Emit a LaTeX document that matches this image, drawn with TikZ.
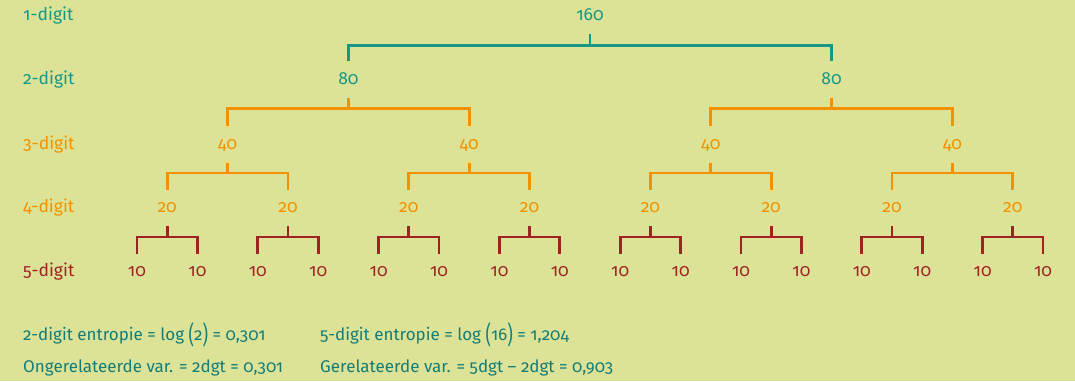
\documentclass[tikz,border=0pt]{standalone}
\usepackage{fontspec}
\setmainfont{Fira Sans}[Numbers=OldStyle]
\definecolor{bg}{RGB}{220,227,150}
\definecolor{tealc}{RGB}{22,152,135}
\definecolor{orng}{RGB}{242,146,0}
\definecolor{dred}{RGB}{158,36,36}
\definecolor{txt}{RGB}{20,125,120}
\newcommand{\bp}[1]{\raisebox{-3pt}{\scalebox{1}[1.45]{#1}}}
\begin{document}
\begin{tikzpicture}[x=1pt,y=-1pt,
  lab/.style={inner sep=0pt, text height=9pt, text depth=0pt, minimum height=36pt, font=\fontsize{17.5}{17.5}\selectfont},
  rowlab/.style={anchor=west, inner sep=0pt, font=\fontsize{17.5}{17.5}\selectfont},
  bot/.style={anchor=west, inner sep=0pt, text=txt, font=\fontsize{17}{17}\selectfont},
  brk/.style={line width=2.8pt, line join=miter}]
\fill[bg] (0,0) rectangle (1075,381);
\useasboundingbox (0,0) rectangle (1075,381);
% row labels
\node[rowlab, text=tealc] (r1) at (23,16) {1-digit};
\node[rowlab, text=tealc] (r2) at (23,79.5) {2-digit};
\node[rowlab, text=orng] (r3) at (23,144.5) {3-digit};
\node[rowlab, text=orng] (r4) at (23,208) {4-digit};
\node[rowlab, text=dred] (r5) at (23,272) {5-digit};
% nodes
\foreach \i in {0,...,15} \node[lab, text=dred] (e\i) at ({137+60.4*\i},272) {10};
\foreach \j in {0,...,7} \node[lab, text=orng] (d\j) at ({167.2+120.8*\j},208) {20};
\foreach \k in {0,...,3} \node[lab, text=orng] (c\k) at ({227.6+241.6*\k},144.5) {40};
\foreach \m in {0,1} \node[lab, text=tealc] (b\m) at ({348.4+483.2*\m},79.5) {80};
\node[lab, text=tealc] (a0) at (590,16) {160};
% brackets
\foreach \j in {0,...,7} {
  \pgfmathtruncatemacro{\l}{2*\j}\pgfmathtruncatemacro{\r}{2*\j+1}
  \draw[brk, dred] (e\l.north) -- (e\l.north |- 0,237) -- (e\r.north |- 0,237) -- (e\r.north);
  \draw[brk, dred] (d\j.south) -- (d\j.south |- 0,237);
}
\foreach \k in {0,...,3} {
  \pgfmathtruncatemacro{\l}{2*\k}\pgfmathtruncatemacro{\r}{2*\k+1}
  \draw[brk, orng] (d\l.north) -- (d\l.north |- 0,173) -- (d\r.north |- 0,173) -- (d\r.north);
  \draw[brk, orng] (c\k.south) -- (c\k.south |- 0,173);
}
\foreach \m in {0,1} {
  \pgfmathtruncatemacro{\l}{2*\m}\pgfmathtruncatemacro{\r}{2*\m+1}
  \draw[brk, orng] (c\l.north) -- (c\l.north |- 0,108.5) -- (c\r.north |- 0,108.5) -- (c\r.north);
  \draw[brk, orng] (b\m.south) -- (b\m.south |- 0,108.5);
}
\draw[brk, tealc] (b0.north) -- (b0.north |- 0,45.5) -- (b1.north |- 0,45.5) -- (b1.north);
\draw[brk, tealc] (a0.south) -- (a0.south |- 0,45.5);
% bottom text
\node[bot] (t1) at (23,335) {2-digit entropie = log \bp{(}2\bp{)} = 0,301};
\node[bot] (t2) at (320,335) {5-digit entropie = log \bp{(}16\bp{)} = 1,204};
\node[bot] (t3) at (23,368) {Ongerelateerde var. = 2dgt = 0,301};
\node[bot] (t4) at (320,368) {Gerelateerde var. = 5dgt – 2dgt = 0,903};
\end{tikzpicture}
\end{document}
